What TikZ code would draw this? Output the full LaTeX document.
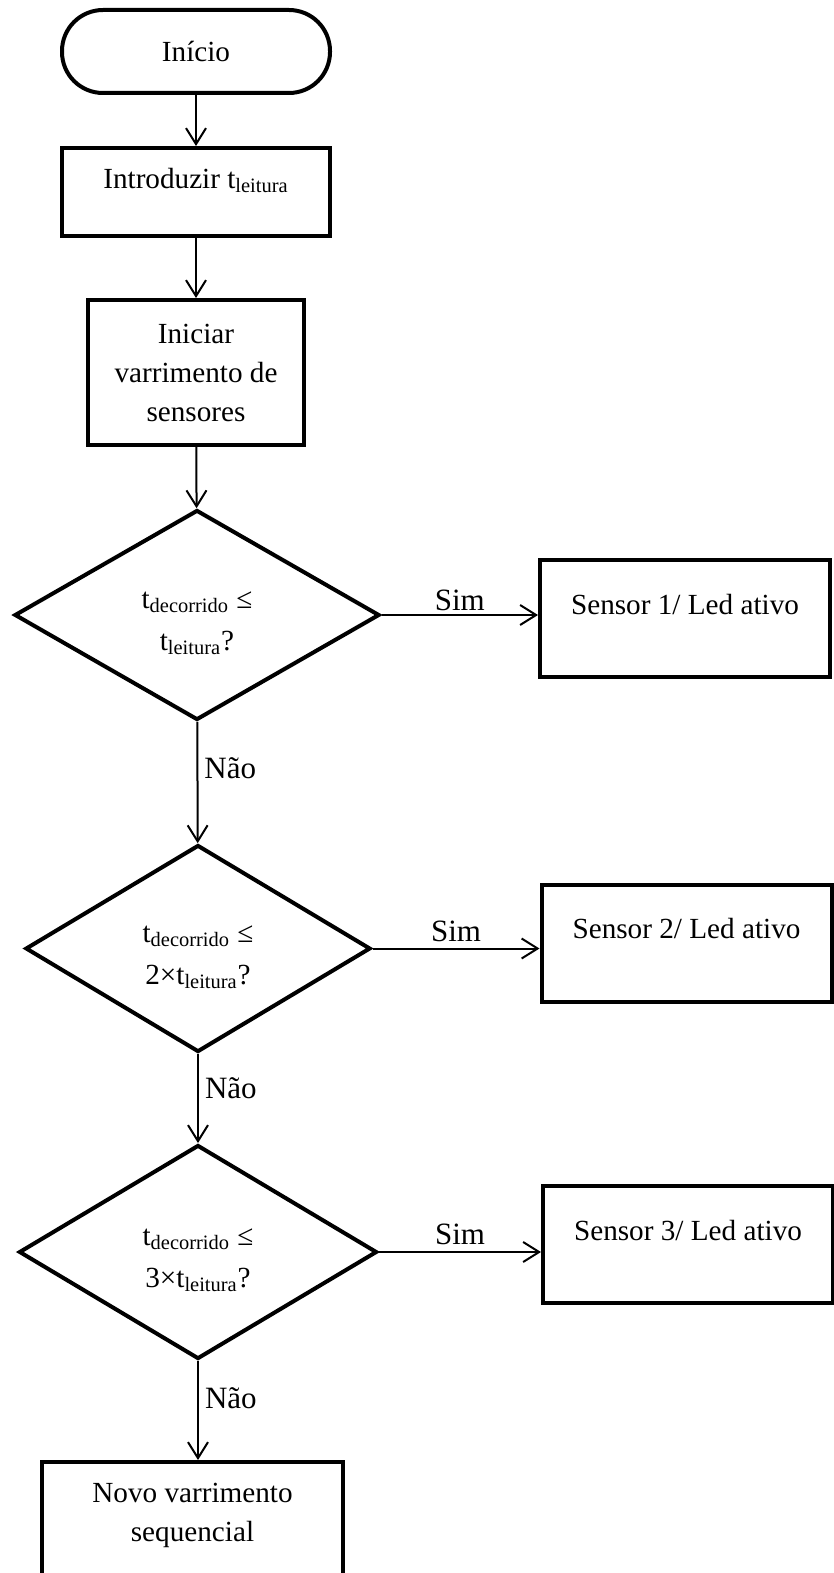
\documentclass[tikz,border=0pt]{standalone}
\usepackage{fontspec}
\setmainfont{Liberation Serif}
\usetikzlibrary{shapes.geometric, arrows.meta}

\tikzset{
  fluxo/.style={draw, line width=2pt, inner sep=0pt, align=center},
  terminal/.style={fluxo, rectangle, rounded corners=20.5pt,
    minimum width=134pt, minimum height=41.5pt},
  caixa/.style 2 args={fluxo, rectangle, minimum width=#1, minimum height=#2},
  decisao/.style 2 args={fluxo, diamond, aspect=1.7, minimum width=#1, minimum height=#2,
    text height=35.5pt, text depth=0pt},
  texto/.style 2 args={text height=#1, text depth=#2},
  seta/.style={-{Straight Barb[length=8pt, width=10pt]}, line width=1pt},
  rotulo/.style={font=\fontsize{15.5}{18}\selectfont, inner sep=3pt}
}

\begin{document}
\begin{tikzpicture}[x=0.5pt, y=-0.5pt, font=\fontsize{14.6}{19.5}\selectfont]
    \clip (0, 0) rectangle (834, 1573);

    % left column
    \node[terminal] (inicio) at (196, 51.5) {Início};
    \node[caixa={134pt}{44pt}, texto={11pt}{14.4pt}] (intro) at (196, 192)
      {Introduzir t\textsubscript{leitura}};
    \node[caixa={108pt}{72.5pt}] (iniciar) at (196, 372.5)
      {Iniciar\\varrimento de\\sensores};

    % decisions
    \node[decisao={182.5pt}{105pt}] (d1) at (197, 615)
      {t\textsubscript{decorrido} ≤\\[1.5pt] t\textsubscript{leitura}?};
    \node[decisao={172.5pt}{103.5pt}] (d2) at (198, 948.5)
      {t\textsubscript{decorrido} ≤\\[1.5pt] 2×t\textsubscript{leitura}?};
    \node[decisao={179pt}{107pt}] (d3) at (198, 1252)
      {t\textsubscript{decorrido} ≤\\[1.5pt] 3×t\textsubscript{leitura}?};

    \node[caixa={150.5pt}{65pt}, texto={14pt}{0pt}] (novo) at (192.5, 1527)
      {Novo varrimento\\sequencial};

    % right column
    \node[caixa={145pt}{58.5pt}, texto={11pt}{15.4pt}] (s1) at (685, 618.5) {Sensor 1/ Led ativo};
    \node[caixa={145pt}{58.5pt}, texto={11pt}{15.4pt}] (s2) at (686.5, 943) {Sensor 2/ Led ativo};
    \node[caixa={145pt}{58.5pt}, texto={11pt}{15.4pt}] (s3) at (688, 1244.5) {Sensor 3/ Led ativo};

    % connectors
    \draw[seta] (inicio) -- (intro);
    \draw[seta] (intro) -- (iniciar);
    \draw[seta] (iniciar) -- (d1);

    \draw[seta] (d1.east) -- node[rotulo, above, inner sep=1.5pt] {Sim} (d1.east -| s1.west);
    \draw[seta] (d2.east) -- node[rotulo, above] {Sim} (d2.east -| s2.west);
    \draw[seta] (d3.east) -- node[rotulo, above] {Sim} (d3.east -| s3.west);

    \draw[seta] (d1) -- node[rotulo, right, pos=0.38] {Não} (d2);
    \draw[seta] (d2) -- node[rotulo, right, pos=0.38] {Não} (d3);
    \draw[seta] (d3.south) -- node[rotulo, right, pos=0.38] {Não} (d3.south |- novo.north);

\end{tikzpicture}
\end{document}
